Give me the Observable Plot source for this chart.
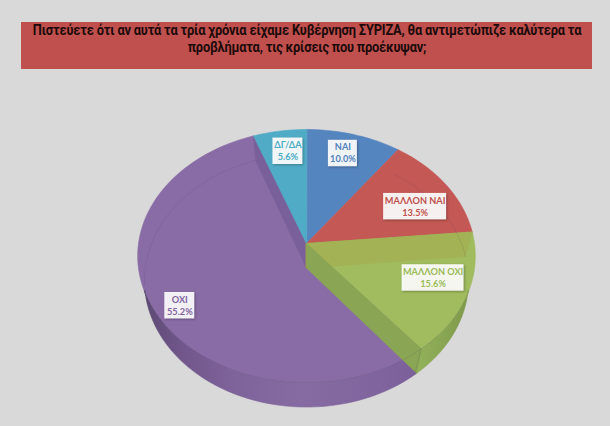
<!DOCTYPE html>
<html><head><meta charset="utf-8">
<script src="https://cdn.jsdelivr.net/npm/d3@7"></script>
<script src="https://cdn.jsdelivr.net/npm/@observablehq/plot@0.6"></script>
<style>
html,body{margin:0;padding:0;background:#d9d9d9;width:610px;height:426px;overflow:hidden}
#title{position:absolute;left:21px;top:22px;width:571px;height:47px;background:#c0504d;color:#1c0a0a;
font:bold 15px/17px Roboto,sans-serif;letter-spacing:-0.2px;text-align:center;white-space:nowrap}
#title span{position:absolute;left:50%;top:0;width:max-content;transform:translateX(-50%) scaleX(.855)}
#chart{position:absolute;left:0;top:69px}
svg{display:block;background:transparent}
</style></head><body>
<div id="title"><span>Πιστεύετε ότι αν αυτά τα τρία χρόνια είχαμε Κυβέρνηση ΣΥΡΙΖΑ, θα αντιμετώπιζε καλύτερα τα<br>προβλήματα, τις κρίσεις που προέκυψαν;</span></div>
<div id="chart"></div>
<script>
const categories = ["ΝΑΙ","ΜΑΛΛΟΝ ΝΑΙ","ΜΑΛΛΟΝ ΟΧΙ","ΟΧΙ","ΔΓ/ΔΑ"];
const values = [10.0,13.5,15.6,55.2,5.6];
const faceColors = ["#5585bf","#c45855","#a0bc5f","#896ca5","#50acc6"];
const textColors = ["#4f81bd","#c0504d","#9bbb59","#8064a2","#4bacc6"];

// pie geometry (perspective-tilted disc)
const cx=306, cy=243, R=168, Ry=125.3, k=0.099, depth=24.5, shrink=0.96;
const rad=d=>d*Math.PI/180;
function upper(theta,r=1){const s=Math.sin(rad(theta)),c=Math.cos(rad(theta)),w=1+k*r*c;
  return [cx+R*r*s/w, cy-Ry*r*c/w];}
function lower(theta,r=1){const [x,y]=upper(theta,r);return [cx+(x-cx)*shrink,y+depth];}
function arc(fn,a,b,step=2){const n=Math.max(1,Math.ceil(Math.abs(b-a)/step)),o=[];
  for(let i=0;i<=n;i++)o.push(fn(a+(b-a)*i/n));return o;}

const total=d3.sum(values);
const cum=d3.cumsum(values);
const slices=categories.map((c,i)=>({c,i,a0:(i?cum[i-1]:0)/total*360,a1:cum[i]/total*360}));

const polys=[];let pid=0;
const add=(pts,fill)=>{const id=pid++;pts.forEach(([x,y])=>polys.push({id,x,y,fill}));};
const apex=upper(0,0), apexLow=lower(0,0);
const sector=s=>add([apex,...arc(upper,s.a0,s.a1)],faceColors[s.i]);
const cut=(theta,fill)=>add([apex,upper(theta),lower(theta),apexLow],fill);
const wall=(a,b,c,d,fill)=>add([...arc(upper,a,b),...arc(lower,c,d)],fill);
const [yes,mYes,mNo,no,dk]=slices;
// purple first, everything else sits on it
sector(no);
wall(no.a0,248,260,no.a0,"url(#purpleWall)");
cut(no.a1,"#7a609b");
sector(yes); sector(dk);
sector(mYes); cut(mYes.a1,"#b44f50");
sector(mNo);
wall(112,mNo.a1,mNo.a1,100,"url(#greenWall)");
cut(mNo.a0,"#a2b254");
cut(mNo.a1,"#8aa553");

// faint rim ghosts
const ghosts=[];let gid=0;
const ghost=pts=>{const id=gid++;pts.forEach(([x,y])=>ghosts.push({id,x,y}));};
ghost(arc(upper,no.a0-8,248));
ghost(arc(lower,262,no.a1));
ghost(arc(lower,mYes.a0,mYes.a1));
ghost([lower(no.a0+1),upper(no.a0)]);

// labels: placed from each slice's mid angle, nudged like the original
const nudges=[[0,-6.5],[3,8],[7,-3],[-13,14],[2,-6]];
const boxW=[29,63,62,30,30], boxH=26.5;
const labels=slices.map(s=>{const [x,y]=upper((s.a0+s.a1)/2,.75);
  return {x:x+nudges[s.i][0],y:y+nudges[s.i][1],name:s.c,pct:values[s.i].toFixed(1)+"%",w:boxW[s.i],color:textColors[s.i]};});

// horizontal shading of the outer wall
const wallStops={
  purpleWall:[[138,"#4d3f5c"],[150,"#604c78"],[180,"#70568a"],[230,"#7e629a"],[300,"#866aa2"],[380,"#80649d"],[417,"#7b5f99"]],
  greenWall:[[417,"#93b05a"],[445,"#88a553"],[470,"#7d9748"]]
};
const gradientDefs=(index,{x})=>{
  const ns="http://www.w3.org/2000/svg",defs=document.createElementNS(ns,"defs");
  for(const [id,stops] of Object.entries(wallStops)){
    const g=document.createElementNS(ns,"linearGradient");
    g.setAttribute("id",id);g.setAttribute("gradientUnits","userSpaceOnUse");
    g.setAttribute("x1",x(stops[0][0]));g.setAttribute("x2",x(stops[stops.length-1][0]));g.setAttribute("y1",0);g.setAttribute("y2",0);
    const a=stops[0][0],b=stops[stops.length-1][0];
    for(const [p,c] of stops){const s=document.createElementNS(ns,"stop");
      s.setAttribute("offset",(p-a)/(b-a));s.setAttribute("stop-color",c);g.appendChild(s);}
    defs.appendChild(g);
  }
  return defs;
};

const font='"Lato","Open Sans",sans-serif';
const fig=Plot.plot({
  width:610,height:357,margin:0,
  x:{domain:[0,610],range:[0,610],axis:null},
  y:{domain:[69,426],range:[0,357],axis:null},
  color:{type:"identity"},
  style:{background:"transparent"},
  marks:[
    gradientDefs,
    Plot.line(polys,{x:"x",y:"y",z:"id",fill:"fill",stroke:"fill",strokeWidth:0.6,curve:"linear-closed"}),
    Plot.line(ghosts,{x:"x",y:"y",z:"id",stroke:"#3d2f55",strokeWidth:0.6,strokeOpacity:0.2}),
    Plot.rect(labels,{x1:d=>d.x-d.w/2,x2:d=>d.x+d.w/2,y1:d=>d.y-boxH/2,y2:d=>d.y+boxH/2,fill:"#fff",fillOpacity:0.92,imageFilter:"drop-shadow(1px 1px 1px rgba(0,0,0,.3))"}),
    Plot.text(labels,{x:"x",y:d=>d.y-6,text:"name",fill:"color",fontFamily:font,fontWeight:700,fontSize:9.2}),
    Plot.text(labels,{x:"x",y:d=>d.y+6,text:"pct",fill:"color",fontFamily:font,fontWeight:700,fontSize:9.2})
  ]
});
document.getElementById("chart").appendChild(fig);
</script></body></html>
